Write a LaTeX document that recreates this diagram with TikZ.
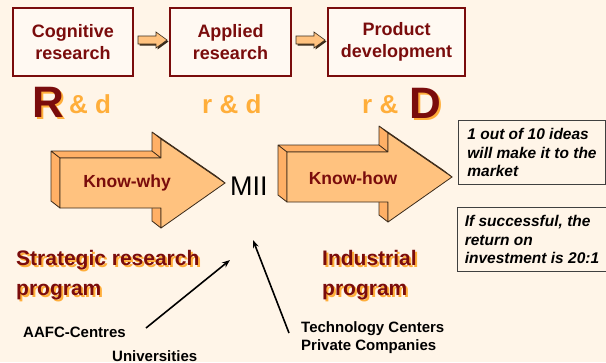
\documentclass[tikz,border=0pt]{standalone}
\usepackage{fontspec}
\setmainfont{Liberation Sans}
\usepackage{xcolor}
\usetikzlibrary{arrows.meta, positioning}

\definecolor{bgcream}{HTML}{FFF5E8}
\definecolor{boxfill}{HTML}{FFF9F2}
\definecolor{rdred}{HTML}{7A0C0C}
\definecolor{rdorange}{HTML}{FFAE3A}
\definecolor{arrowfront}{HTML}{FFC27F}
\definecolor{arrowside}{HTML}{FFB066}
\definecolor{arrowline}{HTML}{3A2A1A}
\definecolor{notegray}{HTML}{404040}

\tikzset{
  pics/knowarrow/.style={code={
    % side faces first, the front face on top
    \filldraw[arrowside, draw=arrowline, line width=0.8pt, line join=round]
      (0,-25) -- (101,-25) -- (92,-32) -- (-9,-32) -- cycle
      (0,-25) -- (0,25) -- (-9,18) -- (-9,-32) -- cycle
      (101,-25) -- (101,-44) -- (92,-51) -- (92,-32) -- cycle
      (101,25) -- (101,45) -- (92,38) -- (92,18) -- cycle
      (101,-44) -- (165,0) -- (156,-7) -- (92,-51) -- cycle;
    \filldraw[arrowfront, draw=arrowline, line width=0.8pt, line join=round]
      (0,-25) -- (101,-25) -- (101,-44) -- (165,0) -- (101,45) -- (101,25) -- (0,25) -- cycle;
  }}
}

\begin{document}
\begin{tikzpicture}[x=1pt,y=-1pt,node distance=35pt,>={Stealth[length=8pt,width=6pt]},
        stage/.style={draw=rdred,line width=2pt,fill=boxfill,minimum height=68pt,inner sep=0pt,
          font=\fontsize{18}{21.6}\selectfont\bfseries,text=rdred,align=center},
        note/.style={draw=notegray,line width=1pt,minimum width=147pt,minimum height=64pt,inner sep=0pt,
          anchor=north west,font=\fontsize{15.5}{18.5}\selectfont\bfseries\itshape,align=left},
        big/.style={anchor=base west,inner sep=0pt,font=\fontsize{44}{44}\selectfont\bfseries},
        small/.style={anchor=base west,inner sep=0pt,font=\fontsize{26}{26}\selectfont\bfseries,text=rdorange},
        program/.style={anchor=base west,inner sep=0pt,align=left,font=\fontsize{21}{30}\selectfont\bfseries},
        actor/.style={anchor=base west,inner sep=0pt,align=left,font=\fontsize{15}{18}\selectfont\bfseries},
        know/.style={inner sep=0pt,font=\fontsize{17.5}{20}\selectfont\bfseries,text=rdred}]

    \fill[bgcream] (0,0) rectangle (606,362);
    \useasboundingbox (0,0) rectangle (606,362);

    % the three stages
    \node[stage,minimum width=120pt] (cog) at (73,42) {Cognitive\\research};
    \node[stage,minimum width=121pt] (app) [right=of cog] {Applied\\research};
    \node[stage,minimum width=137pt] (prod) [right=of app] {Product\\development};

    \foreach \a in {cog,app} {
      \begin{scope}[shift={(\a.east)}]
        \fill[arrowline] (5.5,-4.5) -- (23.5,-4.5) -- (23.5,-8.5) -- (34.5,-0.5) -- (23.5,7.5) -- (23.5,3.5) -- (5.5,3.5) -- cycle;
        \filldraw[arrowfront,draw=arrowline,line width=0.6pt]
          (4,-6) -- (22,-6) -- (22,-10) -- (33,-2) -- (22,6) -- (22,2) -- (4,2) -- cycle;
      \end{scope}
    }

    % R&d, r&d, r&D
    \node[big,text=rdorange] at (34,119) {R};
    \node[big,text=rdred] (bigR) at (32,117) {R};
    \node[small] (rdA) at (69,113) {\& d};
    \node[small] (rdB) at (202,113) {r \& d};
    \node[small] (rdC) at (362,113) {r \&};
    \node[big,text=rdorange] at (411,120) {D};
    \node[big,text=rdred] (bigD) at (409,118) {D};

    % know-why and know-how
    \pic at (60,183) {knowarrow};
    \pic at (287,177) {knowarrow};
    \node[know] (why) at (127,183) {Know-why};
    \node[know] (how) at (353,178) {Know-how};
    \node[anchor=base west,inner sep=0pt,font=\fontsize{27}{27}\selectfont] (mii) at (230,195) {MII};

    % the odds
    \node[note] (odds) at (458,120) {1 out of 10 ideas\\will make it to the\\market};
    \node[note,minimum width=149pt] (roi) at (457,207) {If successful, the\\return on\\investment is 20:1};

    % programs
    \node[program,text=rdorange] at (18,297) {Strategic research\\program};
    \node[program,text=rdred] (strat) at (16,295) {Strategic research\\program};
    \node[program,text=rdorange] at (324,297) {Industrial\\program};
    \node[program,text=rdred] (indus) at (322,295) {Industrial\\program};

    % who feeds MII
    \node[actor] (aafc) at (23,337) {AAFC-Centres};
    \node[actor] (univ) at (112,361) {Universities};
    \node[actor] (tech) at (301,350) {Technology Centers\\Private Companies};

    \coordinate (fromA) at (146,328);
    \coordinate (fromB) at (289,333);
    \coordinate (toA) at (230,260);
    \coordinate (toB) at (253,240);
    \draw[->,line width=1.6pt] (fromA) -- (toA);
    \draw[->,line width=1.6pt] (fromB) -- (toB);
\end{tikzpicture}
\end{document}
